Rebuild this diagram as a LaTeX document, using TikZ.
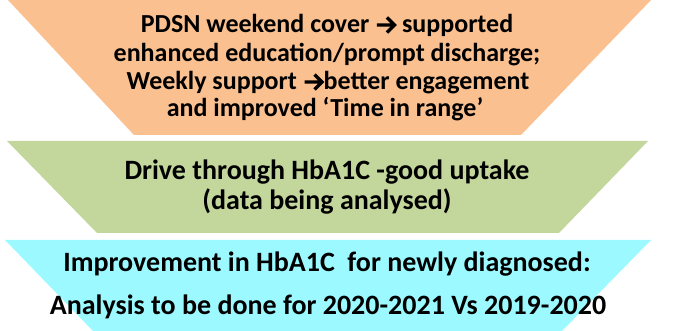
\documentclass[tikz,border=0pt]{standalone}
\usepackage{fontspec}
\setmainfont{Carlito}
% bold chevron arrow used inside the text lines
\newcommand{\chevarrow}{\tikz[baseline=0pt,x=1pt,y=1pt]{\draw[line width=3.4pt,line join=miter,line cap=butt] (0,8) -- (17,8) (10,15.5) -- (17.5,8) -- (10,0.5);}}
\begin{document}
\begin{tikzpicture}[x=1pt,y=-1pt,
  txt/.style={anchor=base,inner sep=0pt},
  otxt/.style={txt,font=\bfseries\fontsize{26}{30}\selectfont},
  gtxt/.style={txt,font=\bfseries\fontsize{28}{32}\selectfont},
  ctxt/.style={txt,font=\bfseries\fontsize{28}{32}\selectfont}]
\definecolor{bandorange}{HTML}{FAC090}
\definecolor{bandgreen}{HTML}{C3D69B}
\definecolor{bandcyan}{HTML}{9BF9FF}
\useasboundingbox (0,0) rectangle (689,331);
% funnel bands
\fill[bandorange] (8,0) -- (651,0) -- (521,135) -- (134,135) -- cycle;
\fill[bandgreen] (7,141) -- (648,141) -- (559,233) -- (97,233) -- cycle;
\fill[bandcyan] (5,240) -- (651,240) -- (562,331) -- (93,331) -- cycle;
% top band text
\node[otxt] (o1) at (327,33) {PDSN weekend cover \chevarrow{} supported};
\node[otxt] (o2) at (327,62) {enhanced education/prompt discharge;};
\node[otxt] (o3) at (328,90) {Weekly support \chevarrow better engagement};
\node[otxt] (o4) at (325,117) {and improved ‘Time in range’};
% middle band text
\node[gtxt] (g1) at (327,180) {Drive through HbA1C -good uptake};
\node[gtxt] (g2) at (327,210) {(data being analysed)};
% bottom band text
\node[ctxt] (c1) at (327,272) {Improvement in HbA1C\ \ for newly diagnosed:};
\node[ctxt] (c2) at (328,315) {Analysis to be done for 2020-2021 Vs 2019-2020};
\end{tikzpicture}
\end{document}
